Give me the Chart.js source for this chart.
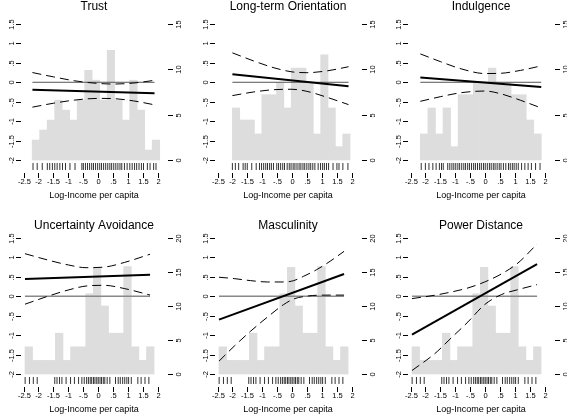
<!DOCTYPE html>
<html>
<head>
<meta charset="utf-8">
<script src="https://cdn.jsdelivr.net/npm/chart.js@4.4.1/dist/chart.umd.min.js"></script>
<style>
  body { margin: 0; background: #fff; width: 567px; height: 416px; position: relative; overflow: hidden; }
  canvas { position: absolute; }
</style>
</head>
<body>
<canvas id="p1" width="194" height="214" style="left:0;top:0"></canvas>
<canvas id="p2" width="194" height="214" style="left:194px;top:0"></canvas>
<canvas id="p3" width="180" height="214" style="left:387px;top:0"></canvas>
<canvas id="p4" width="194" height="202" style="left:0;top:214px"></canvas>
<canvas id="p5" width="194" height="202" style="left:194px;top:214px"></canvas>
<canvas id="p6" width="180" height="202" style="left:387px;top:214px"></canvas>
<script>
// axis ticks
const xTicks = [-2.5, -2, -1.5, -1, -0.5, 0, 0.5, 1, 1.5, 2];
const xTickLabels = ['-2.5', '-2', '-1.5', '-1', '-.5', '0', '.5', '1', '1.5', '2'];
const yTicks = [-2, -1.5, -1, -0.5, 0, 0.5, 1, 1.5];
const yTickLabels = ['-2', '-1.5', '-1', '-.5', '0', '.5', '1', '1.5'];
const countTicksTop = [0, 5, 10, 15];
const countTicksBottom = [0, 5, 10, 15, 20];
const xLabel = 'Log-Income per capita';

// Trust
const trustBinMid = [-2.084, -1.832, -1.580, -1.328, -1.076, -0.824, -0.572, -0.320, -0.068, 0.184, 0.436, 0.688, 0.940, 1.192, 1.444, 1.696, 1.948];
const trustBinHeight = [2.2, 3.3, 4.4, 6.6, 5.5, 4.4, 6.6, 9.9, 8.8, 6.6, 12.1, 6.6, 4.4, 8.8, 5.5, 1.1, 2.2];
const trustFitX = [-2.2, 1.9];
const trustFit = [-0.19, -0.28];
const trustBandX = [-2.2, -1.5, -0.8, 0, 0.5, 1.2, 1.9];
const trustUpper = [0.25, 0.14, 0.04, -0.03, -0.045, -0.02, 0.05];
const trustLower = [-0.64, -0.54, -0.46, -0.415, -0.42, -0.48, -0.58];
const trustRug = [-2.18, -2.04, -1.87, -1.70, -1.62, -1.53, -1.45, -1.37, -1.28, -1.19, -1.09, -0.94, -0.77, -0.54, -0.49, -0.42, -0.35, -0.28, -0.21, -0.15, -0.08, -0.01, 0.06, 0.12, 0.19, 0.26, 0.33, 0.40, 0.46, 0.53, 0.60, 0.67, 0.74, 0.80, 0.89, 0.98, 1.07, 1.15, 1.23, 1.30, 1.38, 1.46, 1.53, 1.66, 1.75, 1.87, 1.95];

// Long-term Orientation
const ltoBinMid = [-1.877, -1.630, -1.383, -1.136, -0.889, -0.642, -0.395, -0.148, 0.100, 0.347, 0.594, 0.841, 1.088, 1.335, 1.582, 1.829];
const ltoBinHeight = [5.74, 4.41, 4.41, 2.87, 7.2, 7.2, 8.53, 5.74, 10.15, 10.15, 8.53, 2.87, 11.6, 5.74, 1.47, 2.87];
const ltoFitX = [-2.0, 1.9];
const ltoFit = [0.207, -0.103];
const ltoBandX = [-2.0, -1.3, -0.6, 0, 0.5, 1.2, 1.9];
const ltoUpper = [0.757, 0.553, 0.372, 0.268, 0.247, 0.296, 0.40];
const ltoLower = [-0.343, -0.251, -0.19, -0.18, -0.233, -0.392, -0.575];
const ltoRug = [-2.0, -1.90, -1.79, -1.64, -1.57, -1.50, -1.35, -1.20, -1.09, -1.02, -0.95, -0.88, -0.82, -0.75, -0.69, -0.62, -0.51, -0.45, -0.38, -0.31, -0.25, -0.16, -0.09, -0.03, 0.04, 0.10, 0.17, 0.24, 0.30, 0.37, 0.43, 0.50, 0.57, 0.63, 0.70, 0.77, 0.88, 0.96, 1.03, 1.09, 1.16, 1.23, 1.38, 1.51, 1.58, 1.71, 1.88];

// Indulgence
const indBinMid = [-2.043, -1.789, -1.535, -1.281, -1.027, -0.773, -0.519, -0.265, -0.011, 0.243, 0.497, 0.751, 1.005, 1.259, 1.513, 1.767];
const indBinHeight = [2.87, 5.74, 2.87, 5.74, 1.47, 7.2, 7.2, 8.53, 8.53, 10.15, 8.53, 8.53, 7.2, 7.2, 4.41, 2.87];
const indFitX = [-2.17, 1.89];
const indFit = [0.12, -0.12];
const indBandX = [-2.17, -1.5, -0.8, 0, 0.5, 1.2, 1.89];
const indUpper = [0.73, 0.533, 0.346, 0.225, 0.23, 0.307, 0.422];
const indLower = [-0.49, -0.372, -0.268, -0.225, -0.29, -0.465, -0.662];
const indRug = [-2.14, -2.0, -1.88, -1.75, -1.64, -1.53, -1.46, -1.40, -1.25, -1.18, -1.11, -1.045, -0.98, -0.91, -0.85, -0.78, -0.71, -0.65, -0.58, -0.52, -0.45, -0.38, -0.32, -0.25, -0.18, -0.12, -0.05, 0.01, 0.08, 0.15, 0.21, 0.28, 0.34, 0.41, 0.48, 0.54, 0.62, 0.70, 0.79, 0.85, 0.92, 0.98, 1.05, 1.12, 1.23, 1.34, 1.45, 1.56, 1.70, 1.85];

// bottom row shares one income distribution
const lowBinMid = [-2.3225, -2.0675, -1.8125, -1.5575, -1.3025, -1.0475, -0.7925, -0.5375, -0.2825, -0.0275, 0.2275, 0.4825, 0.7375, 0.9925, 1.2475, 1.5025, 1.7575];
const lowBinHeight = [4, 2, 2, 2, 6, 2, 4, 4, 11.8, 15.7, 10, 6, 6, 15.8, 4, 2, 4];
const lowRug = [-2.445, -2.30, -2.17, -2.04, -1.45, -1.375, -1.29, -1.21, -1.07, -0.92, -0.79, -0.65, -0.54, -0.46, -0.38, -0.32, -0.26, -0.21, -0.15, -0.10, -0.04, 0.01, 0.07, 0.12, 0.18, 0.23, 0.31, 0.40, 0.59, 0.68, 0.75, 0.83, 0.90, 0.97, 1.03, 1.12, 1.34, 1.45, 1.58, 1.71];

// Uncertainty Avoidance
const uaFitX = [-2.45, 1.75];
const uaFit = [0.446, 0.557];
const uaBandX = [-2.45, -1.7, -1.0, -0.4, 0.2, 0.9, 1.75];
const uaUpper = [1.096, 0.936, 0.807, 0.736, 0.75, 0.873, 1.082];
const uaLower = [-0.204, -0.004, 0.161, 0.264, 0.282, 0.197, 0.032];

// Masculinity
const mascFitX = [-2.45, 1.75];
const mascFit = [-0.60, 0.574];
const mascBandX = [-2.45, -1.94, -1.39, -0.83, -0.28, 0.06, 0.39, 0.83, 1.28, 1.75];
const mascUpper = [0.49, 0.455, 0.403, 0.368, 0.368, 0.403, 0.514, 0.685, 0.90, 1.157];
const mascLower = [-1.67, -1.285, -0.90, -0.54, -0.214, -0.069, -0.009, 0.026, 0.03, 0.03];

// Power Distance
const pdFitX = [-2.45, 1.75];
const pdFit = [-0.985, 0.83];
const pdBandX = [-2.45, -1.69, -1.13, -0.57, -0.01, 0.55, 1.11, 1.75];
const pdUpper = [-0.06, 0.026, 0.11, 0.214, 0.368, 0.574, 0.857, 1.345];
const pdLower = [-1.91, -1.48, -1.07, -0.66, -0.214, 0.043, 0.171, 0.30];

const FONT = '"Liberation Sans", Arial, sans-serif';
const Y_MIN = -2.309, Y_MAX = 1.757;
const RUG_Y = -2.167;

// R style axes: outward ticks, rotated y labels, no axis lines
const rAxes = {
  id: 'rAxes',
  afterDraw(chart, args, o) {
    const { ctx, chartArea: a, scales } = chart;
    const xs = scales.x, yl = scales.y, yr = scales.y2;
    ctx.save();
    ctx.strokeStyle = '#000';
    ctx.fillStyle = '#000';
    ctx.lineWidth = 1;
    const seg = (x1, y1, x2, y2) => { ctx.beginPath(); ctx.moveTo(x1, y1); ctx.lineTo(x2, y2); ctx.stroke(); };
    ctx.font = '7.5px ' + FONT;
    ctx.textAlign = 'center';
    ctx.textBaseline = 'middle';
    xTicks.forEach((v, i) => {
      const px = Math.round(xs.getPixelForValue(v)) + 0.5;
      seg(px, a.bottom + 1, px, a.bottom + 6);
      ctx.fillText(xTickLabels[i], px, a.bottom + 10);
    });
    const vLabel = (txt, x, y) => {
      ctx.save(); ctx.translate(x, y); ctx.rotate(-Math.PI / 2); ctx.fillText(txt, 0, 0); ctx.restore();
    };
    yTicks.forEach((v, i) => {
      const py = Math.round(yl.getPixelForValue(v)) + 0.5;
      seg(a.left - 5, py, a.left, py);
      vLabel(yTickLabels[i], a.left - 9, py);
    });
    o.countTicks.forEach(v => {
      const py = Math.round(yr.getPixelForValue(v)) + 0.5;
      seg(a.right + 1, py, a.right + 6, py);
      vLabel(String(v), a.right + 12, py);
    });
    const cx = (a.left + a.right) / 2;
    ctx.font = '9px ' + FONT;
    ctx.fillText(xLabel, cx, a.bottom + 24);
    ctx.font = '12px ' + FONT;
    ctx.fillText(o.title, cx, o.titleY);
    ctx.restore();
  }
};

function drawPanel(id, title, titleY, zeroColor, zeroWidth, binMid, binHeight, fitX, fit, bandX, upper, lower, rug, countTicks) {
  const ctx = document.getElementById(id).getContext('2d');
  const W = ctx.canvas.width, H = ctx.canvas.height;
  const pts = (xs, ys) => xs.map((x, i) => ({ x: x, y: ys[i] }));
  const k = countTicks[countTicks.length - 1] / 3.5;
  const ends = [bandX[0], bandX[bandX.length - 1]];

  new Chart(ctx, {
    type: 'bar',
    data: {
      datasets: [
        { type: 'line', data: pts(fitX, fit), borderColor: '#000', borderWidth: 2, pointRadius: 0, yAxisID: 'y', order: 1 },
        { type: 'line', data: pts(bandX, upper), borderColor: '#000', borderWidth: 1, borderDash: [9, 5], pointRadius: 0, cubicInterpolationMode: 'monotone', yAxisID: 'y', order: 2 },
        { type: 'line', data: pts(bandX, lower), borderColor: '#000', borderWidth: 1, borderDash: [9, 5], pointRadius: 0, cubicInterpolationMode: 'monotone', yAxisID: 'y', order: 2 },
        { type: 'line', data: pts(ends, [0, 0]), borderColor: zeroColor, borderWidth: zeroWidth, pointRadius: 0, yAxisID: 'y', order: 3 },
        { type: 'scatter', data: rug.map(x => ({ x: x, y: RUG_Y })), pointStyle: 'line', pointRotation: 90, pointRadius: 3.5, pointBorderColor: '#333', pointBorderWidth: 1, yAxisID: 'y', order: 4 },
        { type: 'bar', data: pts(binMid, binHeight), backgroundColor: '#dddddd', borderWidth: 0, barPercentage: 1, categoryPercentage: 1, yAxisID: 'y2', order: 5 }
      ]
    },
    options: {
      responsive: false,
      animation: false,
      devicePixelRatio: 1,
      layout: { padding: { left: 21, top: 14, right: W - 167, bottom: H - 172 } },
      scales: {
        x: { type: 'linear', display: false, min: -2.584, max: 2.319, offset: false, ticks: { stepSize: 1, includeBounds: false } },
        y: { type: 'linear', display: false, min: Y_MIN, max: Y_MAX },
        y2: { type: 'linear', display: false, position: 'right', min: (Y_MIN + 2) * k, max: (Y_MAX + 2) * k }
      },
      plugins: {
        legend: { display: false },
        tooltip: { enabled: false },
        rAxes: { title: title, titleY: titleY, countTicks: countTicks }
      }
    },
    plugins: [rAxes]
  });
}

drawPanel('p1', 'Trust', 7, '#555', 1, trustBinMid, trustBinHeight, trustFitX, trustFit, trustBandX, trustUpper, trustLower, trustRug, countTicksTop);
drawPanel('p2', 'Long-term Orientation', 7, '#555', 1, ltoBinMid, ltoBinHeight, ltoFitX, ltoFit, ltoBandX, ltoUpper, ltoLower, ltoRug, countTicksTop);
drawPanel('p3', 'Indulgence', 7, '#555', 1, indBinMid, indBinHeight, indFitX, indFit, indBandX, indUpper, indLower, indRug, countTicksTop);
drawPanel('p4', 'Uncertainty Avoidance', 11.5, '#888', 1.5, lowBinMid, lowBinHeight, uaFitX, uaFit, uaBandX, uaUpper, uaLower, lowRug, countTicksBottom);
drawPanel('p5', 'Masculinity', 11.5, '#888', 1.5, lowBinMid, lowBinHeight, mascFitX, mascFit, mascBandX, mascUpper, mascLower, lowRug, countTicksBottom);
drawPanel('p6', 'Power Distance', 11.5, '#888', 1.5, lowBinMid, lowBinHeight, pdFitX, pdFit, pdBandX, pdUpper, pdLower, lowRug, countTicksBottom);
</script>
</body>
</html>
